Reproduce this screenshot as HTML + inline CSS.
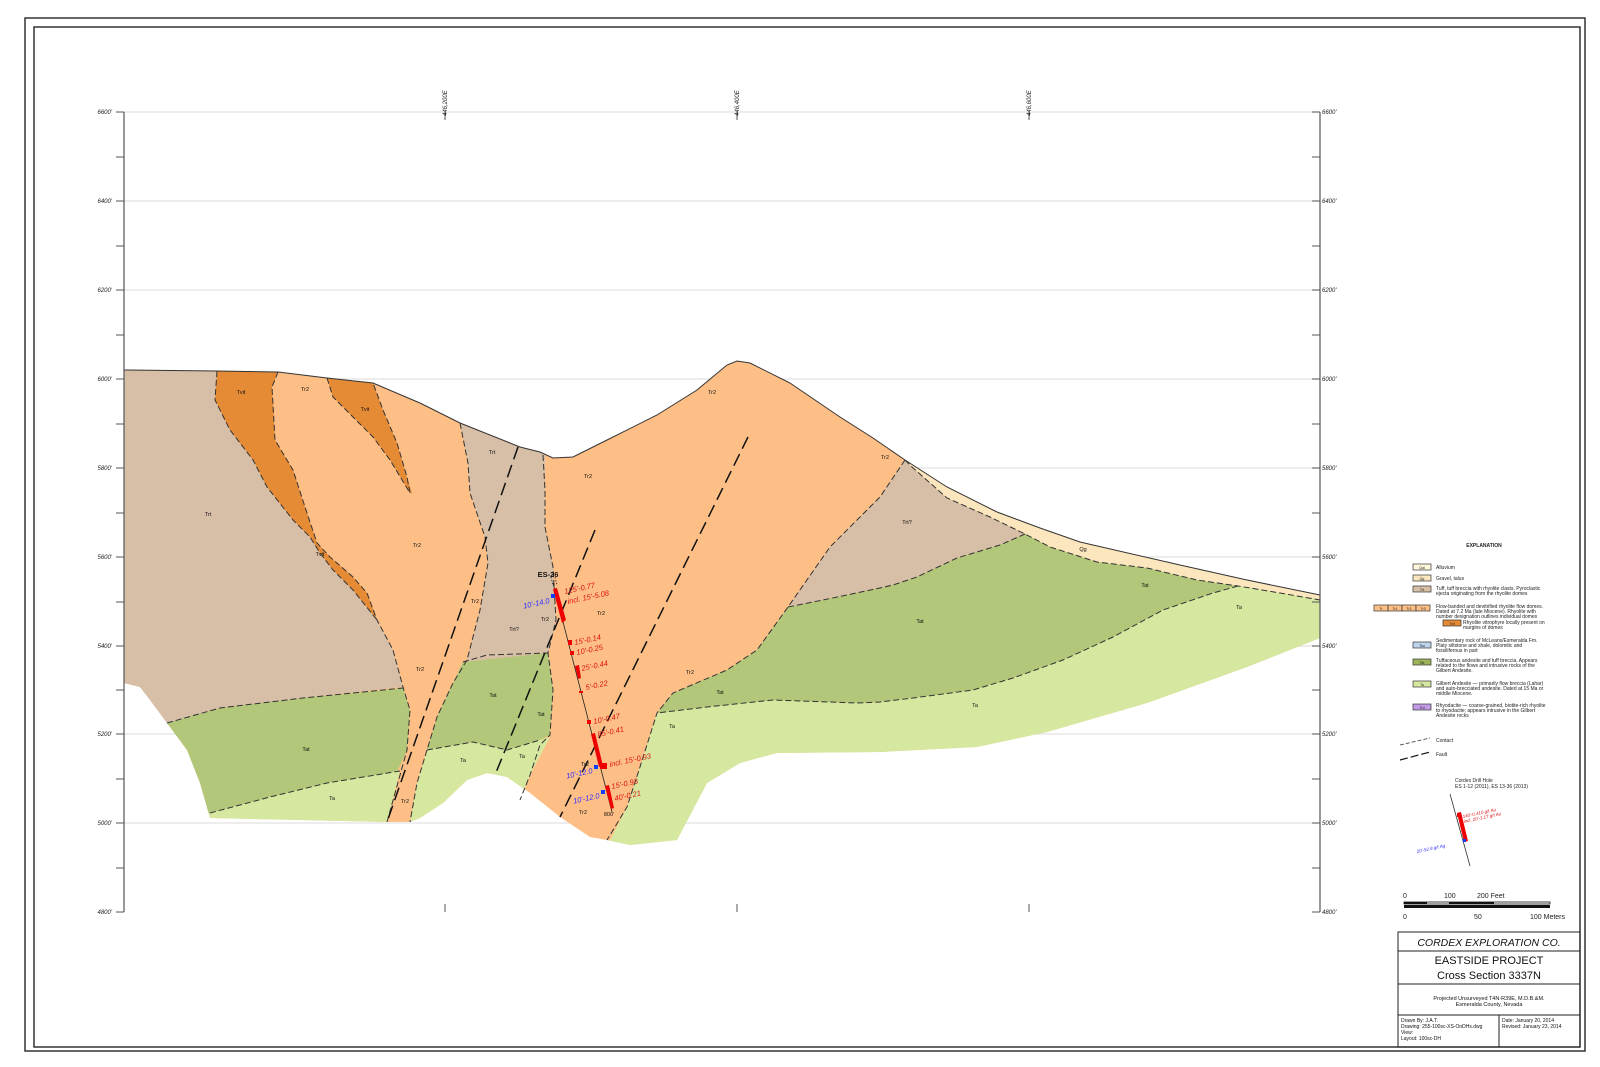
<!DOCTYPE html>
<html><head><meta charset="utf-8"><style>
html,body{margin:0;padding:0;background:#fff}
svg{display:block}
text{font-family:"Liberation Sans",sans-serif}
</style></head><body>
<svg width="1600" height="1067" viewBox="0 0 1600 1067" xmlns="http://www.w3.org/2000/svg">
<rect x="25" y="18" width="1560" height="1033" fill="none" stroke="#333" stroke-width="1.5"/>
<rect x="34" y="27" width="1546" height="1020" fill="none" stroke="#333" stroke-width="1.5"/>

<g stroke="#e2e2e2" stroke-width="1.2">
<line x1="124" y1="112" x2="1320" y2="112"/><line x1="124" y1="201" x2="1320" y2="201"/>
<line x1="124" y1="290" x2="1320" y2="290"/><line x1="124" y1="379" x2="1320" y2="379"/>
<line x1="124" y1="468" x2="1320" y2="468"/><line x1="124" y1="557" x2="1320" y2="557"/>
<line x1="124" y1="646" x2="1320" y2="646"/><line x1="124" y1="734" x2="1320" y2="734"/>
<line x1="124" y1="823" x2="1320" y2="823"/>
</g>

<defs>
<clipPath id="land"><polygon points="124,370 217,371 278,372 327,378 373,383 420,403 460,423 520,447 540,452 553,458 573,457 607,440 657,415 697,390 727,365 737,361 750,363 790,383 840,417 873,438 905,460 947,487 997,512 1040,528 1080,542 1180,565 1247,580 1320,595 1320,638 1247,667 1147,703 1047,732 977,747 880,752 777,753 740,763 707,783 677,840 630,845 607,840 590,837 560,817 545,805 530,793 507,777 487,773 467,780 443,803 420,818 410,822 387,822 300,820 210,818 200,783 187,750 167,723 150,700 140,687 124,683"/></clipPath>
</defs>

<g clip-path="url(#land)">
<rect x="100" y="340" width="1230" height="520" fill="#fdbf86"/>
<polygon fill="#d7bea6" points="100,360 217,371 215,400 230,430 253,460 267,487 293,520 310,537 320,553 333,570 353,590 377,620 393,650 403,687 303,698 220,708 167,723 100,745"/>
<polygon fill="#e68b35" points="217,371 278,372 272,387 275,440 293,470 307,513 317,543 330,557 353,577 367,593 377,620 353,590 333,570 320,553 310,537 293,520 267,487 253,460 230,430 215,400"/>
<polygon fill="#e68b35" points="327,378 373,383 383,410 397,443 407,477 412,493 410,493 390,460 373,437 353,417 333,397"/>
<polygon fill="#d7bea6" points="460,423 520,447 540,452 545,455 545,490 545,527 553,567 556,620 548,653 463,662 467,660 480,610 488,563 485,537 470,493 468,463"/>
<polygon fill="#b2c779" points="100,745 167,723 220,708 303,698 403,688 410,710 407,750 397,772 327,783 270,797 210,813 100,830"/>
<polygon fill="#d6e8a0" points="100,850 100,820 210,813 270,797 327,783 400,771 387,822 387,850"/>
<polygon fill="#b2c779" points="463,662 548,653 553,690 550,735 540,740 507,750 473,742 427,750 437,717 453,683"/>
<polygon fill="#d6e8a0" points="427,750 473,742 507,750 540,740 550,737 530,775 520,800 410,822 417,783"/>
<polygon fill="#d7bea6" points="905,460 912,467 947,498 990,517 1025,534 1000,545 957,558 917,577 893,585 880,588 823,600 788,607 830,547 880,497"/>
<polygon fill="#fbe6bd" points="900,455 947,487 997,512 1040,528 1080,542 1180,565 1247,580 1330,596 1330,601 1318,600 1280,593 1238,586 1197,580 1147,568 1097,562 1050,547 1025,534 990,517 947,498 912,467"/>
<polygon fill="#b2c779" points="788,607 823,600 880,588 893,585 917,577 957,558 1000,545 1025,534 1050,547 1097,562 1147,568 1197,580 1238,586 1213,593 1163,610 1113,637 1063,660 1013,678 973,690 913,698 880,702 857,703 773,700 707,707 657,713 673,693 727,670 757,650"/>
<polygon fill="#d6e8a0" points="657,713 707,707 773,700 857,703 880,702 913,698 973,690 1013,678 1063,660 1113,637 1163,610 1213,593 1238,586 1280,593 1330,601 1330,700 600,860 627,807 640,767"/>
</g>

<polyline fill="none" stroke="#333" stroke-width="1" points="124,370 217,371 278,372 327,378 373,383 420,403 460,423 520,447 540,452 553,458 573,457 607,440 657,415 697,390 727,365 737,361 750,363 790,383 840,417 873,438 905,460 947,487 997,512 1040,528 1080,542 1180,565 1247,580 1320,595"/>

<g fill="none" stroke="#333" stroke-width="1" stroke-dasharray="6,3">
<polyline points="217,371 215,400 230,430 253,460 267,487 293,520 310,537 320,553 333,570 353,590 377,620"/>
<polyline points="278,372 272,387 275,440 293,470 307,513 317,543 330,557 353,577 367,593 377,620 393,650 403,687 410,710 407,750 387,822"/>
<polyline points="327,378 333,397 353,417 373,437 390,460 410,493 407,477 397,443 383,410 373,383"/>
<polyline points="460,423 468,463 470,493 485,537 488,563 480,610 467,660 453,683 437,717 427,750 417,783 410,822"/>
<polyline points="543,455 545,490 545,527 553,567 556,620 548,653 553,690 550,735 540,745 530,775 520,800"/>
<polyline points="167,723 220,708 303,698 403,688"/>
<polyline points="210,813 270,797 327,783 400,771"/>
<polyline points="463,662 487,655 548,653"/>
<polyline points="427,750 473,742 507,750 540,740"/>
<polyline points="905,460 880,497 830,547 788,607 757,650 727,670 673,693 657,713 640,767 627,807 607,840"/>
<polyline points="905,460 912,467 947,498 990,517 1025,534 1050,547 1097,562 1147,568 1197,580 1238,586 1280,593 1320,600"/>
<polyline points="1025,534 1000,545 957,558 917,577 893,585 880,588 823,600 788,607"/>
<polyline points="1238,586 1213,593 1163,610 1113,637 1063,660 1013,678 973,690 913,698 880,702 857,703 773,700 707,707 657,713"/>
</g>
<g fill="none" stroke="#111" stroke-width="1.5" stroke-dasharray="13,6">
<line x1="518" y1="447" x2="387" y2="822"/>
<line x1="595" y1="530" x2="495" y2="775"/>
<line x1="748" y1="437" x2="560" y2="817"/>
</g>

<g font-size="5.5" fill="#111" text-anchor="middle">
<text x="241" y="394">Tvit</text><text x="305" y="391">Tr2</text><text x="365" y="411">Tvit</text>
<text x="208" y="516">Trt</text><text x="320" y="556">Tvit</text><text x="417" y="547">Tr2</text>
<text x="492" y="454">Trt</text><text x="475" y="603">Tr2</text><text x="514" y="631">Trt?</text>
<text x="420" y="671">Tr2</text><text x="306" y="751">Tat</text><text x="493" y="697">Tat</text>
<text x="541" y="716">Tat</text><text x="463" y="762">Ta</text><text x="522" y="758">Ta</text>
<text x="332" y="800">Ta</text><text x="405" y="803">Tr2</text><text x="588" y="478">Tr2</text>
<text x="601" y="615">Tr2</text><text x="545" y="621">Tr2</text><text x="690" y="674">Tr2</text>
<text x="712" y="394">Tr2</text><text x="885" y="459">Tr2</text><text x="907" y="524">Trt?</text>
<text x="920" y="623">Tat</text><text x="720" y="694">Tat</text><text x="672" y="728">Ta</text>
<text x="975" y="707">Ta</text><text x="1145" y="587">Tat</text><text x="1239" y="609">Ta</text>
<text x="1083" y="551">Qg</text><text x="585" y="766">Tr2</text><text x="583" y="814">Tr2</text>
</g>

<g>
<line x1="553" y1="583" x2="612" y2="812" stroke="#222" stroke-width="0.8"/>
<line x1="551" y1="577" x2="553" y2="585" stroke="#222" stroke-width="0.8" stroke-dasharray="1.5,1.5"/>
<line x1="555" y1="577" x2="557" y2="585" stroke="#222" stroke-width="0.8" stroke-dasharray="1.5,1.5"/>
<text x="548" y="577" font-size="7.5" font-weight="bold" text-anchor="middle" fill="#111">ES-26</text>
<g fill="#e00">
<polygon points="553,589 557,588 566,620 562,623"/>
<rect x="568" y="640" width="4" height="5"/><rect x="570" y="651" width="4" height="4"/>
<polygon points="575,666 579,665 581,678 578,679"/>
<rect x="579" y="691" width="4" height="2"/><rect x="587" y="720" width="4" height="4"/>
<polygon points="591,734 595,733 603,766 599,767"/>
<rect x="600" y="763" width="7" height="6"/>
<polygon points="605,786 609,785 614,808 611,809"/>
</g>
<g fill="#1040ff"><rect x="551" y="594" width="4" height="4"/><rect x="594" y="765" width="4" height="4"/><rect x="601" y="790" width="4" height="4"/></g>
<g font-size="7.5" font-style="italic" fill="#d11">
<text transform="translate(565,594) rotate(-12)">125'-0.77</text>
<text transform="translate(568,604) rotate(-12)">incl. 15'-5.08</text>
<text transform="translate(575,645) rotate(-12)">15'-0.14</text>
<text transform="translate(577,655) rotate(-12)">10'-0.25</text>
<text transform="translate(582,671) rotate(-12)">25'-0.44</text>
<text transform="translate(586,690) rotate(-12)">5'-0.22</text>
<text transform="translate(594,724) rotate(-12)">10'-0.47</text>
<text transform="translate(598,737) rotate(-12)">85'-0.41</text>
<text transform="translate(610,767) rotate(-12)">incl.  15'-0.93</text>
<text transform="translate(612,789) rotate(-12)">15'-0.93</text>
<text transform="translate(615,801) rotate(-12)">40'-0.21</text>
</g>
<g font-size="7.5" font-style="italic" fill="#3030ff" text-anchor="end">
<text transform="translate(550,603) rotate(-12)">10'-14.0</text>
<text transform="translate(593,773) rotate(-12)">10'-12.0</text>
<text transform="translate(600,798) rotate(-12)">10'-12.0</text>
</g>
<text x="609" y="816" font-size="5.5" text-anchor="middle" fill="#111">800'</text>
</g>

<g stroke="#555" stroke-width="1.2">
<line x1="124" y1="112" x2="124" y2="912"/>
<line x1="1320" y1="112" x2="1320" y2="912"/>
</g>
<g stroke="#555" stroke-width="1">
<path d="M116,112h8M116,157h8M116,201h8M116,246h8M116,290h8M116,335h8M116,379h8M116,424h8M116,468h8M116,513h8M116,557h8M116,602h8M116,646h8M116,690h8M116,734h8M116,779h8M116,823h8M116,868h8M116,912h8"/>
<path d="M1312,112h8M1312,157h8M1312,201h8M1312,246h8M1312,290h8M1312,335h8M1312,379h8M1312,424h8M1312,468h8M1312,513h8M1312,557h8M1312,602h8M1312,646h8M1312,690h8M1312,734h8M1312,779h8M1312,823h8M1312,868h8M1312,912h8"/>
<path d="M445,112v8M737,112v8M1029,112v8M445,904v8M737,904v8M1029,904v8"/>
</g>
<g font-size="6" font-style="italic" fill="#222">
<g text-anchor="end">
<text x="112" y="114">6600'</text><text x="112" y="203">6400'</text><text x="112" y="292">6200'</text>
<text x="112" y="381">6000'</text><text x="112" y="470">5800'</text><text x="112" y="559">5600'</text>
<text x="112" y="648">5400'</text><text x="112" y="736">5200'</text><text x="112" y="825">5000'</text>
<text x="112" y="914">4800'</text>
</g>
<text x="1322" y="114">6600'</text><text x="1322" y="203">6400'</text><text x="1322" y="292">6200'</text>
<text x="1322" y="381">6000'</text><text x="1322" y="470">5800'</text><text x="1322" y="559">5600'</text>
<text x="1322" y="648">5400'</text><text x="1322" y="736">5200'</text><text x="1322" y="825">5000'</text>
<text x="1322" y="914">4800'</text>
<text transform="translate(447,116) rotate(-90)">446,200E</text>
<text transform="translate(739,116) rotate(-90)">446,400E</text>
<text transform="translate(1031,116) rotate(-90)">446,600E</text>
</g>

<g font-size="5" fill="#222">
<text x="1484" y="547" font-weight="bold" text-anchor="middle">EXPLANATION</text>
<g stroke="#333" stroke-width="0.7">
<rect x="1413" y="564" width="18" height="6" fill="#fff8dc"/>
<rect x="1413" y="575" width="18" height="6" fill="#fbe6bd"/>
<rect x="1413" y="586" width="18" height="6" fill="#d7bea6"/>
<rect x="1374" y="605" width="14" height="6" fill="#fdbf86"/><rect x="1388" y="605" width="14" height="6" fill="#fdbf86"/>
<rect x="1402" y="605" width="14" height="6" fill="#fdbf86"/><rect x="1416" y="605" width="14" height="6" fill="#fdbf86"/>
<rect x="1443" y="620" width="18" height="6" fill="#e68b35"/>
<rect x="1413" y="642" width="18" height="6" fill="#bcd4ec"/>
<rect x="1413" y="659" width="18" height="6" fill="#9cb35a"/>
<rect x="1413" y="681" width="18" height="6" fill="#d6e8a0"/>
<rect x="1413" y="704" width="18" height="6" fill="#c39ae6"/>
</g>
<g font-size="3.5" text-anchor="middle">
<text x="1422" y="569">Qal</text><text x="1422" y="580">Qg</text><text x="1422" y="591">Trt</text>
<text x="1381" y="610">Tr</text><text x="1395" y="610">Tr1</text><text x="1409" y="610">Tr2</text><text x="1423" y="610">Tr3</text>
<text x="1452" y="625">Tvit</text><text x="1422" y="647">Tsu</text><text x="1422" y="664">Tat</text><text x="1422" y="686">Ta</text><text x="1422" y="709">Trd</text>
</g>
<text x="1436" y="569">Alluvium</text>
<text x="1436" y="580">Gravel, talus</text>
<text x="1436" y="590">Tuff, tuff breccia with rhyolite clasts. Pyroclastic</text>
<text x="1436" y="595">ejecta originating from the rhyolite domes</text>
<text x="1436" y="608">Flow-banded and devitrified rhyolite flow domes.</text>
<text x="1436" y="613">Dated at 7.2 Ma (late Miocene). Rhyolite with</text>
<text x="1436" y="618">number designation outlines individual domes</text>
<text x="1463" y="624">Rhyolite vitrophyre locally present on</text>
<text x="1463" y="629">margins of domes</text>
<text x="1436" y="642">Sedimentary rock of McLeans/Esmeralda Fm.</text>
<text x="1436" y="647">Platy siltstone and shale, dolomitic and</text>
<text x="1436" y="652">fossiliferous in part</text>
<text x="1436" y="662">Tuffaceous andesite and tuff breccia. Appears</text>
<text x="1436" y="667">related to the flows and intrusive rocks of the</text>
<text x="1436" y="672">Gilbert Andesite.</text>
<text x="1436" y="685">Gilbert Andesite — primarily flow breccia (Lahar)</text>
<text x="1436" y="690">and auto-brecciated andesite. Dated at 15 Ma or</text>
<text x="1436" y="695">middle Miocene.</text>
<text x="1436" y="707">Rhyodacite — coarse-grained, biotite-rich rhyolite</text>
<text x="1436" y="712">to rhyodacite; appears intrusive in the Gilbert</text>
<text x="1436" y="717">Andesite rocks</text>
<line x1="1400" y1="745" x2="1430" y2="738" stroke="#333" stroke-width="0.8" stroke-dasharray="4,2"/>
<text x="1436" y="742">Contact</text>
<line x1="1400" y1="760" x2="1430" y2="752" stroke="#111" stroke-width="1.2" stroke-dasharray="8,3"/>
<text x="1436" y="756">Fault</text>
<text x="1455" y="782">Cordex Drill Hole</text>
<text x="1455" y="788">ES 1-12 (2011), ES 13-36 (2013)</text>
<line x1="1450" y1="794" x2="1470" y2="866" stroke="#333" stroke-width="0.8"/>
<polygon points="1457,813 1461,812 1468,841 1464,842" fill="#e00"/>
<rect x="1457" y="813" width="4" height="4" fill="#e00"/>
<rect x="1463" y="839" width="3" height="3" fill="#1040ff"/>
<g font-size="4.5" font-style="italic">
<text transform="translate(1463,818) rotate(-12)" fill="#d11">140'-0.410 g/t Au</text>
<text transform="translate(1464,823) rotate(-12)" fill="#d11">incl. 20'-1.17 g/t Au</text>
<text transform="translate(1417,853) rotate(-12)" fill="#3030ff">20'-52.8 g/t Ag</text>
</g>
</g>

<g font-size="7" fill="#222">
<text x="1403" y="898">0</text><text x="1444" y="898">100</text><text x="1477" y="898">200 Feet</text>
<rect x="1404" y="902" width="146" height="2" fill="#fff" stroke="#111" stroke-width="0.8"/>
<rect x="1404" y="905" width="146" height="3" fill="#111"/>
<rect x="1404" y="902" width="23" height="2" fill="#111"/><rect x="1449" y="902" width="45" height="2" fill="#111"/>
<text x="1403" y="919">0</text><text x="1474" y="919">50</text><text x="1530" y="919">100 Meters</text>
</g>

<g fill="none" stroke="#222" stroke-width="1">
<rect x="1398" y="932" width="182" height="115"/>
<line x1="1398" y1="951" x2="1580" y2="951"/>
<line x1="1398" y1="984" x2="1580" y2="984"/>
<line x1="1398" y1="1015" x2="1580" y2="1015"/>
<line x1="1499" y1="1015" x2="1499" y2="1047"/>
</g>
<g fill="#111" text-anchor="middle">
<text x="1489" y="946" font-family="Liberation Serif, serif" font-style="italic" font-size="10.5">CORDEX EXPLORATION CO.</text>
<text x="1489" y="964" font-size="11">EASTSIDE PROJECT</text>
<text x="1489" y="979" font-size="11">Cross Section 3337N</text>
<text x="1489" y="1000" font-size="5.5">Projected Unsurveyed T4N-R39E, M.D.B.&amp;M.</text>
<text x="1489" y="1006" font-size="5.5">Esmeralda County, Nevada</text>
</g>
<g font-size="5" fill="#111">
<text x="1401" y="1022">Drawn By: J.A.T.</text>
<text x="1401" y="1028">Drawing: 255-100sc-XS-OnDHs.dwg</text>
<text x="1401" y="1034">View:</text>
<text x="1401" y="1040">Layout: 100sc-DH</text>
<text x="1502" y="1022">Date: January 20, 2014</text>
<text x="1502" y="1028">Revised: January 23, 2014</text>
</g>
</svg>
</body></html>
